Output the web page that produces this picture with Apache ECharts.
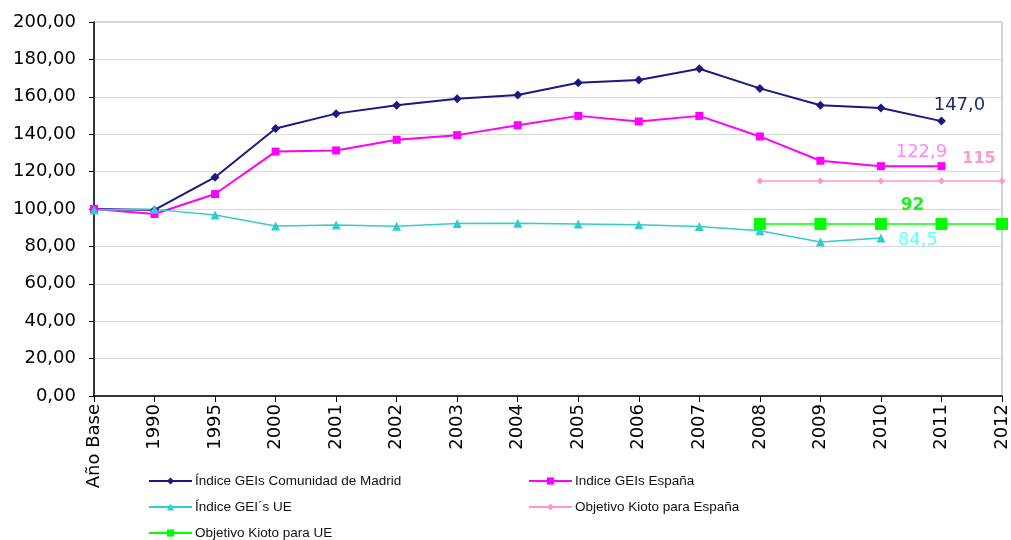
<!DOCTYPE html>
<html lang="es">

<head>
    <meta charset="UTF-8">
    <title>Índice GEIs</title>
    <style>
        body { margin: 0; background: #fff; }
        #box { width: 1011px; height: 540px; }
    </style>
    <script src="https://cdn.jsdelivr.net/npm/echarts@6/dist/echarts.min.js"></script>
</head>

<body>
    <div id="box"></div>
    <script>
        // categorías del eje x
        const years = ['Año Base', '1990', '1995', '2000', '2001', '2002', '2003', '2004', '2005', '2006', '2007', '2008', '2009', '2010', '2011', '2012']

        // valores
        const madrid = [100, 99.5, 117, 143, 151, 155.5, 159, 161, 167.5, 169, 175, 164.5, 155.5, 154, 147, null]
        const espana = [100, 97.3, 108, 130.7, 131.3, 137, 139.5, 144.8, 149.8, 146.8, 149.8, 138.8, 125.8, 122.9, 122.9, null]
        const ue = [99.5, 99.8, 96.8, 90.9, 91.5, 90.8, 92.3, 92.4, 92, 91.6, 90.6, 88.4, 82.4, 84.5, null, null]
        const kiotoEspana = [null, null, null, null, null, null, null, null, null, null, null, 115, 115, 115, 115, 115]
        const kiotoUE = [null, null, null, null, null, null, null, null, null, null, null, 92, 92, 92, 92, 92]

        const yTicks = [0, 20, 40, 60, 80, 100, 120, 140, 160, 180, 200]

        const names = ['Índice GEIs Comunidad de Madrid', 'Indice GEIs España', 'Índice GEI´s UE', 'Objetivo Kioto para España', 'Objetivo Kioto para UE']

        const myChart = echarts.init(document.querySelector('#box'))

        // etiqueta de un punto concreto
        function tag(v, text, color, size, bold, dx, dy) {
            return {
                value: v,
                label: {
                    show: true,
                    position: 'inside',
                    offset: [dx, dy],
                    formatter: text,
                    color: color,
                    fontSize: size,
                    fontWeight: bold ? 'bold' : 'normal',
                    fontFamily: 'DejaVu Sans'
                }
            }
        }

        const madridData = madrid.slice()
        madridData[14] = tag(147, '147,0', '#1f2d6e', 18, false, 18, -16)
        const espanaData = espana.slice()
        espanaData[14] = tag(122.9, '122,9', '#ff88ff', 18, false, -20, -14)
        const ueData = ue.slice()
        ueData[13] = tag(84.5, '84,5', '#66ffff', 18, false, 37, 2)
        const kEspData = kiotoEspana.slice()
        kEspData[15] = tag(115, '115', '#ff99cc', 16, true, -23, -22)
        const kUEData = kiotoUE.slice()
        kUEData[14] = tag(92, '92', '#22ee22', 17, true, -29, -18)

        function legendAt(name, left, top) {
            return {
                data: [name],
                left: left,
                top: top,
                padding: 0,
                itemWidth: 43,
                itemHeight: 9,
                itemGap: 0,
                textStyle: {
                    fontFamily: 'Liberation Sans',
                    fontSize: 13.5,
                    color: '#111',
                    padding: [0, 0, 0, -2]
                }
            }
        }

        const option = {
            backgroundColor: '#fff',
            animation: false,
            grid: {
                left: 94,
                right: 9,
                top: 22,
                bottom: 144,
                show: true,
                borderColor: '#a6a6a6',
                borderWidth: 1
            },
            legend: [
                legendAt(names[0], 148, 474),
                legendAt(names[1], 528, 474),
                legendAt(names[2], 148, 500),
                legendAt(names[3], 528, 500),
                legendAt(names[4], 148, 526)
            ],
            xAxis: {
                type: 'category',
                data: years,
                boundaryGap: false,
                axisLine: { lineStyle: { color: '#000', width: 1.5 } },
                axisTick: { show: true, length: 6, lineStyle: { color: '#000' }, alignWithLabel: true },
                axisLabel: {
                    rotate: 90,
                    interval: 0,
                    margin: 8,
                    color: '#000',
                    fontSize: 18,
                    fontFamily: 'DejaVu Sans'
                },
                splitLine: { show: false }
            },
            yAxis: {
                type: 'value',
                min: yTicks[0],
                max: yTicks[yTicks.length - 1],
                interval: 20,
                axisLine: { show: true, lineStyle: { color: '#000', width: 1.5 } },
                axisTick: { show: true, length: 5, lineStyle: { color: '#000' } },
                axisLabel: {
                    color: '#000',
                    fontSize: 18,
                    margin: 18,
                    fontFamily: 'DejaVu Sans',
                    formatter: v => v.toFixed(2).replace('.', ',')
                },
                splitLine: { lineStyle: { color: '#d9d9d9', width: 1 } }
            },
            series: [{
                name: names[0],
                type: 'line',
                data: madridData,
                symbol: 'diamond',
                symbolSize: 9,
                color: '#1a1a80',
                lineStyle: { width: 2 }
            }, {
                name: names[1],
                type: 'line',
                data: espanaData,
                symbol: 'rect',
                symbolSize: 8,
                color: '#ff00ff',
                lineStyle: { width: 2 }
            }, {
                name: names[2],
                type: 'line',
                data: ueData,
                symbol: 'triangle',
                symbolSize: 9,
                color: '#33cccc',
                lineStyle: { width: 1.5 }
            }, {
                name: names[3],
                type: 'line',
                data: kEspData,
                symbol: 'diamond',
                symbolSize: 7,
                color: '#ff99cc',
                lineStyle: { width: 1.5 }
            }, {
                name: names[4],
                type: 'line',
                data: kUEData,
                symbol: 'rect',
                symbolSize: 12,
                color: '#00ff00',
                lineStyle: { width: 1.5 }
            }]
        }

        myChart.setOption(option)
    </script>

</body>

</html>
